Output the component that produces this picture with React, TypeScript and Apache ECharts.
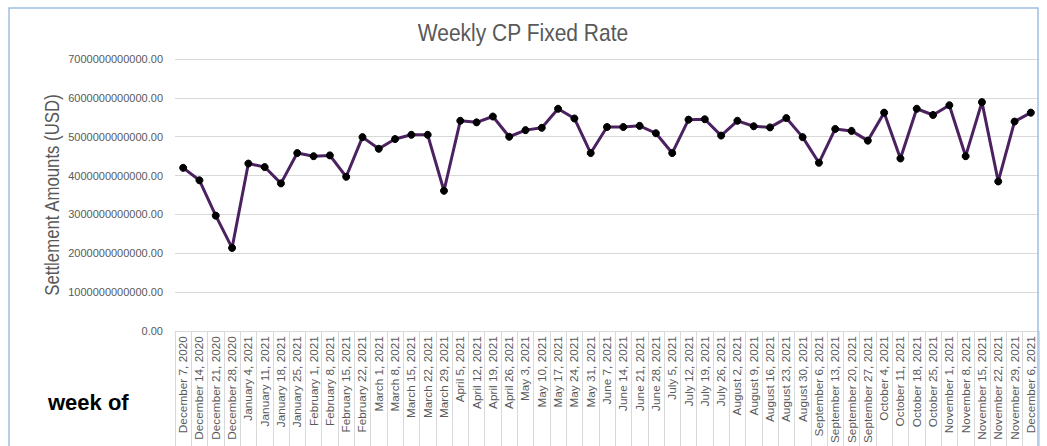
import React, { useEffect, useRef } from "react";
import * as echarts from "echarts";

const categories: string[] = [
  "December 7, 2020", "December 14, 2020", "December 21, 2020", "December 28, 2020",
  "January 4, 2021", "January 11, 2021", "January 18, 2021", "January 25, 2021",
  "February 1, 2021", "February 8, 2021", "February 15, 2021", "February 22, 2021",
  "March 1, 2021", "March 8, 2021", "March 15, 2021", "March 22, 2021", "March 29, 2021",
  "April 5, 2021", "April 12, 2021", "April 19, 2021", "April 26, 2021",
  "May 3, 2021", "May 10, 2021", "May 17, 2021", "May 24, 2021", "May 31, 2021",
  "June 7, 2021", "June 14, 2021", "June 21, 2021", "June 28, 2021",
  "July 5, 2021", "July 12, 2021", "July 19, 2021", "July 26, 2021",
  "August 2, 2021", "August 9, 2021", "August 16, 2021", "August 23, 2021", "August 30, 2021",
  "September 6, 2021", "September 13, 2021", "September 20, 2021", "September 27, 2021",
  "October 4, 2021", "October 11, 2021", "October 18, 2021", "October 25, 2021",
  "November 1, 2021", "November 8, 2021", "November 15, 2021", "November 22, 2021", "November 29, 2021",
  "December 6, 2021",
];

const settlementAmounts: number[] = [
  4.20e12, 3.88e12, 2.97e12, 2.14e12,
  4.31e12, 4.22e12, 3.80e12, 4.58e12,
  4.50e12, 4.52e12, 3.97e12, 4.99e12,
  4.69e12, 4.94e12, 5.05e12, 5.05e12, 3.61e12,
  5.41e12, 5.37e12, 5.52e12, 5.00e12,
  5.17e12, 5.23e12, 5.72e12, 5.47e12, 4.58e12,
  5.25e12, 5.25e12, 5.28e12, 5.09e12,
  4.58e12, 5.44e12, 5.45e12, 5.03e12,
  5.41e12, 5.27e12, 5.24e12, 5.48e12, 4.99e12,
  4.33e12, 5.20e12, 5.15e12, 4.90e12,
  5.62e12, 4.44e12, 5.72e12, 5.56e12,
  5.81e12, 4.50e12, 5.89e12, 3.85e12, 5.39e12,
  5.62e12,
];

const yMin = 0;
const yMax = 7e12;
const yInterval = 1e12;

const titleText = "Weekly CP Fixed Rate";
const yAxisName = "Settlement Amounts (USD)";
const xAxisNote = "week of";

export default function App() {
  const ref = useRef<HTMLDivElement>(null);
  useEffect(() => {
    if (!ref.current) return;
    const chart = echarts.init(ref.current, undefined, { renderer: "svg" });
    chart.setOption({
      animation: false,
      backgroundColor: "#ffffff",
      graphic: [
        {
          type: "rect",
          shape: { x: 9, y: 8, width: 1029, height: 460 },
          style: { fill: "none", stroke: "#9fbfe0", lineWidth: 1.5 },
          silent: true,
          z: 100,
        },
        {
          type: "text",
          x: 523,
          y: 33,
          scaleX: 0.875,
          style: {
            text: titleText,
            fontFamily: "'Liberation Sans', Arial, sans-serif",
            fontSize: 24,
            fill: "#595959",
            textAlign: "center",
            textVerticalAlign: "middle",
          },
        },
        {
          type: "text",
          x: 52,
          y: 195,
          rotation: Math.PI / 2,
          scaleX: 0.84,
          style: {
            text: yAxisName,
            fontFamily: "'Liberation Sans', Arial, sans-serif",
            fontSize: 20,
            fill: "#595959",
            textAlign: "center",
            textVerticalAlign: "middle",
          },
        },
        {
          type: "text",
          x: 48,
          y: 402,
          style: {
            text: xAxisNote,
            fontFamily: "'Liberation Sans', Arial, sans-serif",
            fontSize: 22,
            fontWeight: "bold",
            fill: "#000000",
            textAlign: "left",
            textVerticalAlign: "middle",
          },
        },
      ],
      grid: { left: 175, right: 8, top: 59, bottom: 114, containLabel: false },
      xAxis: {
        type: "category",
        data: categories,
        boundaryGap: true,
        axisLine: { show: true, lineStyle: { color: "#d9d9d9", width: 1 } },
        axisTick: { show: true, interval: 0, length: 120, lineStyle: { color: "#d9d9d9", width: 1 } },
        axisLabel: {
          interval: 0,
          rotate: 90,
          margin: 5,
          fontSize: 11.8,
          color: "#595959",
          fontFamily: "'Liberation Sans', Arial, sans-serif",
        },
        splitLine: { show: false },
      },
      yAxis: {
        type: "value",
        min: yMin,
        max: yMax,
        interval: yInterval,
        axisLine: { show: false },
        axisTick: { show: false },
        axisLabel: {
          margin: 12,
          fontSize: 11,
          color: "#595959",
          fontFamily: "'Liberation Sans', Arial, sans-serif",
          formatter: (v: number) => v.toFixed(2),
        },
        splitLine: { show: true, lineStyle: { color: "#d9d9d9", width: 1 } },
      },
      series: [
        {
          type: "line",
          data: settlementAmounts,
          symbol: "circle",
          symbolSize: 7,
          showSymbol: true,
          lineStyle: { color: "#4b2160", width: 3 },
          itemStyle: { color: "#000000", borderColor: "#000000" },
          z: 3,
        },
      ],
    });
    return () => chart.dispose();
  }, []);
  return (
    <div
      ref={ref}
      style={{ position: "fixed", left: 0, top: 0, width: 1047, height: 446 }}
    />
  );
}
